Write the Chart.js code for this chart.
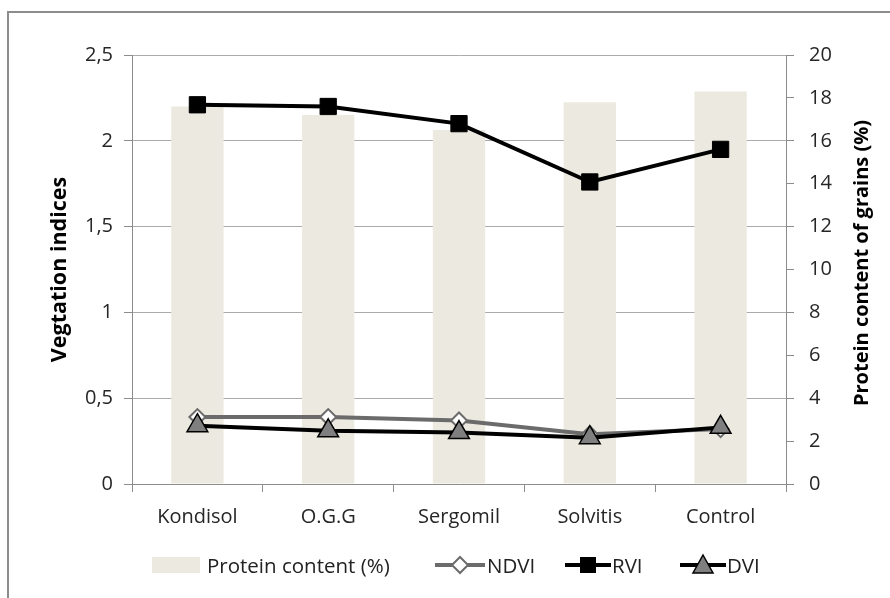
<!DOCTYPE html>
<html>
<head>
<meta charset="utf-8">
<script src="https://cdn.jsdelivr.net/npm/chart.js@4.4.1/dist/chart.umd.min.js"></script>
<style>
  html, body { margin: 0; padding: 0; background: #fff; }
  body { width: 890px; height: 598px; position: relative; overflow: hidden; font-family: "Open Sans", Lato, sans-serif; }
  #frame { position: absolute; left: 7px; top: 11px; width: 900px; height: 600px; border: 2px solid #8c8c8c; box-sizing: border-box; }
  #c { position: absolute; left: 0; top: 0; }
  .lg { position: absolute; top: 552px; height: 26px; line-height: 26px; font-size: 20.5px; color: #222; white-space: nowrap; }
  .lg svg { position: absolute; top: 0; }
</style>
</head>
<body>
<div id="frame"></div>
<canvas id="c" width="890" height="598"></canvas>
<div class="lg" style="left:152px;"><svg width="48" height="26" style="left:0"><rect x="0" y="5" width="48" height="16" fill="#ECEAE0"/></svg><span style="position:absolute;left:55px;">Protein content (%)</span></div>
<div class="lg" style="left:435px;"><svg width="50" height="26" style="left:0"><line x1="0" y1="13" x2="50" y2="13" stroke="#6b6b6b" stroke-width="4"/><polygon points="25,5 33,13 25,21 17,13" fill="#fff" stroke="#6b6b6b" stroke-width="2"/></svg><span style="position:absolute;left:52px;">NDVI</span></div>
<div class="lg" style="left:565px;"><svg width="46" height="26" style="left:0"><line x1="0" y1="13" x2="46" y2="13" stroke="#000" stroke-width="4"/><rect x="15" y="5" width="16" height="16" fill="#000"/></svg><span style="position:absolute;left:47px;">RVI</span></div>
<div class="lg" style="left:680px;"><svg width="46" height="26" style="left:0"><line x1="0" y1="13" x2="46" y2="13" stroke="#000" stroke-width="4"/><polygon points="23,3 33,21 13,21" fill="#7f7f7f" stroke="#000" stroke-width="1.5"/></svg><span style="position:absolute;left:47px;">DVI</span></div>
<script>
const categories = ['Kondisol', 'O.G.G', 'Sergomil', 'Solvitis', 'Control'];
const proteinContent = [17.6, 17.2, 16.5, 17.8, 18.3];
const ndvi = [0.39, 0.39, 0.37, 0.29, 0.32];
const rvi = [2.21, 2.20, 2.10, 1.76, 1.95];
const dvi = [0.34, 0.31, 0.30, 0.27, 0.33];
const leftTickLabels = ['0', '0,5', '1', '1,5', '2', '2,5'];
const rightTickLabels = ['0', '2', '4', '6', '8', '10', '12', '14', '16', '18', '20'];
const leftTitle = 'Vegtation indices';
const rightTitle = 'Protein content of grains (%)';

const FONT = '"Open Sans", Lato, sans-serif';
const tickFont = { family: FONT, size: 20 };

const rightTitlePlugin = {
  id: 'rightTitle',
  afterDraw(chart) {
    const ctx = chart.ctx;
    ctx.save();
    ctx.translate(862, 263);
    ctx.rotate(-Math.PI / 2);
    ctx.font = 'bold 20px ' + FONT;
    ctx.fillStyle = '#000';
    ctx.textAlign = 'center';
    ctx.textBaseline = 'middle';
    ctx.fillText(rightTitle, 0, 0);
    ctx.restore();
  }
};

new Chart(document.getElementById('c'), {
  data: {
    labels: categories,
    datasets: [
      {
        type: 'line', label: 'DVI', data: dvi, yAxisID: 'y', order: 1,
        borderColor: '#000', borderWidth: 4, pointStyle: 'triangle', pointRadius: 12,
        pointBackgroundColor: '#7f7f7f', pointBorderColor: '#000', pointBorderWidth: 1.5, tension: 0
      },
      {
        type: 'line', label: 'RVI', data: rvi, yAxisID: 'y', order: 2,
        borderColor: '#000', borderWidth: 4, pointStyle: 'rect', pointRadius: 11.5,
        pointBackgroundColor: '#000', pointBorderColor: '#000', pointBorderWidth: 1, tension: 0
      },
      {
        type: 'line', label: 'NDVI', data: ndvi, yAxisID: 'y', order: 3,
        borderColor: '#6b6b6b', borderWidth: 4, pointStyle: 'rectRot', pointRadius: 8,
        pointBackgroundColor: '#fff', pointBorderColor: '#6b6b6b', pointBorderWidth: 2, tension: 0
      },
      {
        type: 'bar', label: 'Protein content (%)', data: proteinContent, yAxisID: 'y1', order: 4,
        backgroundColor: '#ECEAE0', borderWidth: 0, barPercentage: 0.4, categoryPercentage: 1.0
      }
    ]
  },
  options: {
    responsive: false,
    animation: false,
    devicePixelRatio: 1,
    layout: { padding: { top: 55, bottom: 60, left: 0, right: 0 } },
    plugins: { legend: { display: false }, tooltip: { enabled: false } },
    scales: {
      x: {
        type: 'category', offset: true,
        grid: { drawOnChartArea: false, drawTicks: true, tickLength: 8, offset: true, color: '#8c8c8c', tickColor: '#8c8c8c' },
        border: { display: true, color: '#8c8c8c', width: 1 },
        ticks: { font: tickFont, color: '#262626', padding: 13, maxRotation: 0 },
        afterFit(s) { s.height = 54; }
      },
      y: {
        position: 'left', min: 0, max: 2.5,
        grid: { color: '#ababab', tickColor: '#8c8c8c', tickLength: 8, drawTicks: true },
        border: { display: true, color: '#8c8c8c', width: 1 },
        ticks: { stepSize: 0.5, font: tickFont, color: '#262626', padding: 11,
          callback: (v, i) => leftTickLabels[i] },
        title: { display: true, text: leftTitle, color: '#000', font: { family: FONT, size: 21.5, weight: 'bold' }, padding: { top: 47, bottom: 0 } },
        afterFit(s) { s.width = 132; }
      },
      y1: {
        position: 'right', min: 0, max: 20,
        grid: { drawOnChartArea: false, tickColor: '#8c8c8c', tickLength: 8, drawTicks: true },
        border: { display: true, color: '#8c8c8c', width: 1 },
        ticks: { stepSize: 2, font: tickFont, color: '#262626', padding: 15,
          callback: (v, i) => rightTickLabels[i] },
        afterFit(s) { s.width = 104; }
      }
    }
  },
  plugins: [rightTitlePlugin]
});
</script>
</body>
</html>
